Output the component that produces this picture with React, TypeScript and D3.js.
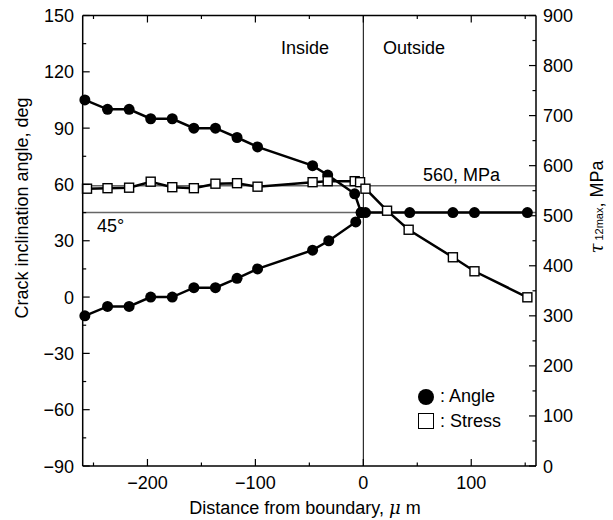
import React from "react";
import * as d3 from "d3";

const angleUpperX = [-258, -237, -217, -197, -177, -157, -137, -117, -98, -47, -33, -8, -2, 2, 43, 83, 103, 152];
const angleUpperY = [105, 100, 100, 95, 95, 90, 90, 85, 80, 70, 65, 55, 45, 45, 45, 45, 45, 45];
const angleLowerX = [-258, -237, -217, -197, -177, -157, -137, -117, -98, -47, -32, -7, -2];
const angleLowerY = [-10, -5, -5, 0, 0, 5, 5, 10, 15, 25, 30, 40, 45];
const stressX = [-256, -237, -217, -197, -177, -157, -137, -117, -98, -47, -33, -8, -3, 2, 22, 42, 83, 103, 152];
const stressY = [554, 555, 556, 568, 557, 555, 564, 565, 558, 567, 569, 569, 567, 554, 510, 472, 417, 389, 337];

const xTicks = [-200, -100, 0, 100];
const xMinor = [-250, -150, -50, 50, 150];
const yLTicks = [-90, -60, -30, 0, 30, 60, 90, 120, 150];
const yLMinor = [-75, -45, -15, 15, 45, 75, 105, 135];
const yRTicks = [0, 100, 200, 300, 400, 500, 600, 700, 800, 900];
const yRMinor = [50, 150, 250, 350, 450, 550, 650, 750, 850];

const FONT = "'Liberation Sans', Arial, Helvetica, sans-serif";
const FS = 18;

export default function App() {
  const L = 82.7, R = 536, T = 15.5, B = 466;
  const x = d3.scaleLinear().domain([-260, 160]).range([L, R]);
  const yL = d3.scaleLinear().domain([-90, 150]).range([B, T]);
  const yR = d3.scaleLinear().domain([0, 900]).range([B, T]);
  const fmt = (v: number) => (v < 0 ? "\u2212" + Math.abs(v) : String(v));

  const lineL = d3.line<[number, number]>().x((d) => x(d[0])).y((d) => yL(d[1]));
  const lineR = d3.line<[number, number]>().x((d) => x(d[0])).y((d) => yR(d[1]));
  const upper = angleUpperX.map((v, i) => [v, angleUpperY[i]] as [number, number]);
  const lower = angleLowerX.map((v, i) => [v, angleLowerY[i]] as [number, number]);
  const stress = stressX.map((v, i) => [v, stressY[i]] as [number, number]);
  const sq = 9;

  return (
    <svg width={613} height={520} style={{ position: "absolute", left: 0, top: 0 }} fontFamily={FONT}>
      <rect x={0} y={0} width={613} height={520} fill="#fff" />
      {/* reference lines */}
      <line x1={L} x2={R} y1={yL(45)} y2={yL(45)} stroke="#666" strokeWidth={1.5} />
      <line x1={L} x2={R} y1={yR(560)} y2={yR(560)} stroke="#666" strokeWidth={1.5} />
      <line x1={x(0)} x2={x(0)} y1={T} y2={B} stroke="#000" strokeWidth={1} />
      {/* series */}
      <path d={lineR(stress) || ""} fill="none" stroke="#000" strokeWidth={2.5} />
      <path d={lineL(upper) || ""} fill="none" stroke="#000" strokeWidth={2.5} />
      <path d={lineL(lower) || ""} fill="none" stroke="#000" strokeWidth={2.5} />
      {upper.concat(lower).map((d, i) => (
        <circle key={"c" + i} cx={x(d[0])} cy={yL(d[1])} r={5.5} fill="#000" />
      ))}
      {stress.map((d, i) => (
        <rect key={"s" + i} x={x(d[0]) - sq / 2} y={yR(d[1]) - sq / 2} width={sq} height={sq} fill="#fff" stroke="#000" strokeWidth={1.4} />
      ))}
      {/* frame */}
      <line x1={L} x2={R} y1={T} y2={T} stroke="#000" strokeWidth={1.5} />
      <line x1={L} x2={R} y1={B} y2={B} stroke="#000" strokeWidth={1.5} />
      <line x1={L} x2={L} y1={T} y2={B} stroke="#000" strokeWidth={1.5} />
      <line x1={R} x2={R} y1={T} y2={B} stroke="#000" strokeWidth={1.5} />
      {/* x ticks */}
      {xTicks.map((t) => (
        <g key={"xt" + t}>
          <line x1={x(t)} x2={x(t)} y1={B} y2={B - 7} stroke="#000" strokeWidth={1.2} />
          <line x1={x(t)} x2={x(t)} y1={T} y2={T + 7} stroke="#000" strokeWidth={1.2} />
          <text x={x(t)} y={488.5} textAnchor="middle" fontSize={FS}>{fmt(t)}</text>
        </g>
      ))}
      {xMinor.map((t) => (
        <g key={"xm" + t}>
          <line x1={x(t)} x2={x(t)} y1={B} y2={B - 3.5} stroke="#000" strokeWidth={1.2} />
          <line x1={x(t)} x2={x(t)} y1={T} y2={T + 3.5} stroke="#000" strokeWidth={1.2} />
        </g>
      ))}
      {/* left ticks */}
      {yLTicks.map((t) => (
        <g key={"yl" + t}>
          <line x1={L} x2={L + 7} y1={yL(t)} y2={yL(t)} stroke="#000" strokeWidth={1.2} />
          <text x={74} y={yL(t) + 6.5} textAnchor="end" fontSize={FS}>{fmt(t)}</text>
        </g>
      ))}
      {yLMinor.map((t) => (
        <line key={"ylm" + t} x1={L} x2={L + 3.5} y1={yL(t)} y2={yL(t)} stroke="#000" strokeWidth={1.2} />
      ))}
      {/* right ticks */}
      {yRTicks.map((t) => (
        <g key={"yr" + t}>
          <line x1={R} x2={R - 7} y1={yR(t)} y2={yR(t)} stroke="#000" strokeWidth={1.2} />
          <text x={543} y={yR(t) + 6.5} textAnchor="start" fontSize={FS}>{fmt(t)}</text>
        </g>
      ))}
      {yRMinor.map((t) => (
        <line key={"yrm" + t} x1={R} x2={R - 3.5} y1={yR(t)} y2={yR(t)} stroke="#000" strokeWidth={1.2} />
      ))}
      {/* annotations */}
      <text x={281} y={54} fontSize={FS}>Inside</text>
      <text x={383} y={54} fontSize={FS}>Outside</text>
      <text x={423} y={181} fontSize={FS}>560, MPa</text>
      <text x={97} y={232} fontSize={FS}>45°</text>
      {/* legend */}
      <circle cx={426} cy={397} r={8} fill="#000" />
      <text x={440} y={402} fontSize={FS}>: Angle</text>
      <rect x={418.5} y={413.5} width={15} height={15} fill="#fff" stroke="#000" strokeWidth={1} />
      <text x={440} y={427} fontSize={FS}>: Stress</text>
      {/* axis titles */}
      <text x={305} y={514} textAnchor="middle" fontSize={FS}>
        Distance from boundary,{" "}
        <tspan fontStyle="italic" fontFamily="'DejaVu Serif', serif">μ</tspan> m
      </text>
      <text transform={`translate(28,208) rotate(-90)`} textAnchor="middle" fontSize={FS}>
        Crack inclination angle, deg
      </text>
      <text transform={`translate(603,207) rotate(-90)`} textAnchor="middle" fontSize={FS}>
        <tspan fontStyle="italic" fontFamily="'DejaVu Serif', serif">τ</tspan>
        <tspan fontSize={11} dx={3}>12max</tspan>
        <tspan>, MPa</tspan>
      </text>
    </svg>
  );
}
